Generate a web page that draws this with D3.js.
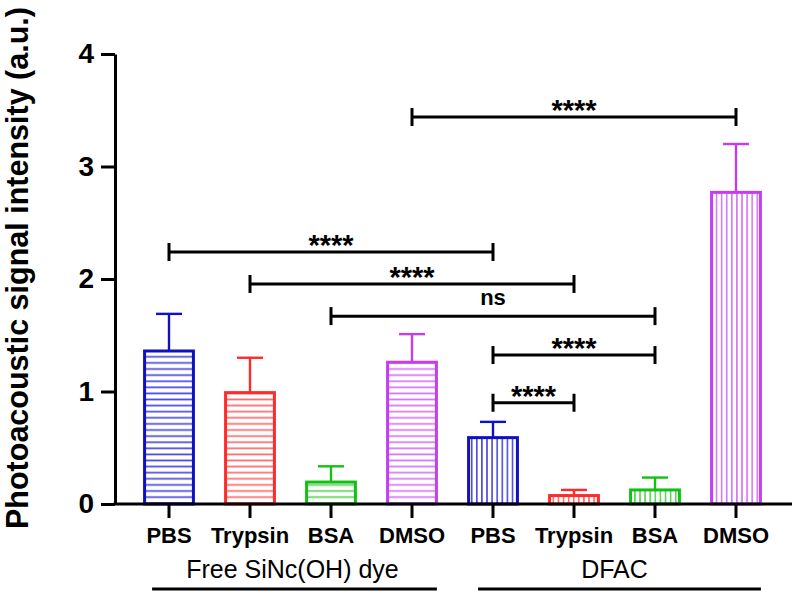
<!DOCTYPE html>
<html><head><meta charset="utf-8">
<script src="https://cdn.jsdelivr.net/npm/d3@7"></script>
<style>
html,body{margin:0;padding:0;background:#fff;}
svg{display:block;font-family:"Liberation Sans",Arial,Helvetica,sans-serif;}
</style></head>
<body>
<svg id="chart" width="795" height="596"></svg>
<script>
// ---- data ----
const categories = ["PBS","Trypsin","BSA","DMSO","PBS","Trypsin","BSA","DMSO"];
const groupNames = ["Free SiNc(OH) dye","DFAC"];
const groupOf = [0,0,0,0,1,1,1,1];
const means = [1.36, 0.99, 0.195, 1.26, 0.59, 0.075, 0.125, 2.77];
const errs  = [0.33, 0.31, 0.14, 0.25, 0.14, 0.05, 0.11, 0.43];
const yTicks = [0,1,2,3,4];
// significance comparisons: [from bar index, to bar index, bracket height (a.u.), label]
const compFrom  = [3, 0, 1, 2, 4, 4];
const compTo    = [7, 4, 5, 6, 6, 5];
const compY     = [3.44, 2.24, 1.956, 1.67, 1.324, 0.90];
const compLabel = ["****","****","****","ns","****","****"];

const strokeColors = ["#1010c0","#ff2a2a","#14c014","#c23ef0"];
const hatchColors  = ["#4a4ade","#ff6a6a","#58d458","#d576f8"];
const colorIdx = [0,1,2,3,0,1,2,3];

// ---- layout ----
const svg = d3.select("#chart");
const y = d3.scaleLinear().domain([0,4]).range([504,54]);
const x = d3.scaleBand().domain(d3.range(categories.length)).range([128.5,776.5])
  .paddingInner(0.36).paddingOuter(0.18);
const axisX = 115, axisRight = 792;

// hatch patterns
const defs = svg.append("defs");
strokeColors.forEach((c,i)=>{
  const ph = defs.append("pattern").attr("id","h"+i).attr("patternUnits","userSpaceOnUse")
    .attr("width",10).attr("height",6.1);
  ph.append("line").attr("x1",0).attr("x2",10).attr("y1",3).attr("y2",3)
    .attr("stroke",hatchColors[i]).attr("stroke-width",1.7);
  const pv = defs.append("pattern").attr("id","v"+i).attr("patternUnits","userSpaceOnUse")
    .attr("width",5.1).attr("height",10);
  pv.append("line").attr("y1",0).attr("y2",10).attr("x1",2.5).attr("x2",2.5)
    .attr("stroke",hatchColors[i]).attr("stroke-width",1.6);
});

// error bars
const eg = svg.append("g");
means.forEach((m,i)=>{
  const cx = x(i)+x.bandwidth()/2;
  const col = strokeColors[colorIdx[i]];
  eg.append("line").attr("x1",cx).attr("x2",cx).attr("y1",y(m)).attr("y2",y(m+errs[i]))
    .attr("stroke",col).attr("stroke-width",2.4);
  eg.append("line").attr("x1",cx-13).attr("x2",cx+13).attr("y1",y(m+errs[i])).attr("y2",y(m+errs[i]))
    .attr("stroke",col).attr("stroke-width",2.4);
});

// bars
svg.append("g").selectAll("rect").data(means).join("rect")
  .attr("x",(d,i)=>x(i)+1.5)
  .attr("width",x.bandwidth()-3)
  .attr("y",d=>y(d))
  .attr("height",d=>y(0)-y(d))
  .attr("fill",(d,i)=>`url(#${groupOf[i]===0?"h":"v"}${colorIdx[i]})`)
  .attr("stroke",(d,i)=>strokeColors[colorIdx[i]])
  .attr("stroke-width",3);

// y axis
const yAxis = svg.append("g").attr("transform",`translate(${axisX},0)`)
  .call(d3.axisLeft(y).tickValues(yTicks).tickFormat(d3.format("d")).tickSize(14).tickSizeOuter(0).tickPadding(7));
yAxis.select(".domain").attr("stroke","#000").attr("stroke-width",3);
yAxis.selectAll(".tick line").attr("stroke","#000").attr("stroke-width",3);
yAxis.selectAll(".tick text").attr("font-size",28).attr("font-weight","bold").attr("fill","#000")
  .attr("font-family","Liberation Sans, Arial, sans-serif");

// x axis
const xAxis = svg.append("g").attr("transform",`translate(0,${y(0)})`)
  .call(d3.axisBottom(x).tickFormat(i=>categories[i]).tickSize(14).tickSizeOuter(0).tickPadding(9));
xAxis.select(".domain").remove();
xAxis.selectAll(".tick line").attr("stroke","#000").attr("stroke-width",3);
xAxis.selectAll(".tick text").attr("font-size",22).attr("font-weight","bold").attr("fill","#000")
  .attr("font-family","Liberation Sans, Arial, sans-serif");
svg.append("line").attr("x1",axisX-1.5).attr("x2",axisRight).attr("y1",y(0)).attr("y2",y(0))
  .attr("stroke","#000").attr("stroke-width",3);

// group labels
groupNames.forEach((g,gi)=>{
  const idx = d3.range(categories.length).filter(i=>groupOf[i]===gi);
  const first = idx[0], last = idx[idx.length-1];
  const lx0 = x(first) + (gi===0 ? 9 : 11);
  const lx1 = x(last) + x.bandwidth() - 1;
  svg.append("line").attr("x1",lx0).attr("x2",lx1).attr("y1",589).attr("y2",589)
    .attr("stroke","#000").attr("stroke-width",3);
  svg.append("text").attr("x",(x(first)+x(last)+x.bandwidth())/2 + (gi===0?2:0)).attr("y",578)
    .attr("text-anchor","middle").attr("font-size",25).attr("fill","#000").text(g);
});

// significance brackets
compFrom.forEach((a,k)=>{
  const xa = x(a)+x.bandwidth()/2, xb = x(compTo[k])+x.bandwidth()/2, yy = y(compY[k]);
  const g = svg.append("g");
  g.append("line").attr("x1",xa).attr("x2",xb).attr("y1",yy).attr("y2",yy).attr("stroke","#000").attr("stroke-width",3);
  [xa,xb].forEach(xx=>g.append("line").attr("x1",xx).attr("x2",xx).attr("y1",yy-9).attr("y2",yy+9)
    .attr("stroke","#000").attr("stroke-width",3));
  const isNs = compLabel[k]==="ns";
  g.append("text").attr("x",(xa+xb)/2).attr("y",isNs? yy-11 : yy+3)
    .attr("text-anchor","middle").attr("font-weight","bold")
    .attr("font-size",isNs?22:29).attr("fill","#000").text(compLabel[k]);
});

// y title
svg.append("text").attr("transform","translate(28,268) rotate(-90)")
  .attr("text-anchor","middle").attr("font-size",30.5).attr("font-weight","bold").attr("fill","#000")
  .text("Photoacoustic signal intensity (a.u.)");
</script>
</body></html>
